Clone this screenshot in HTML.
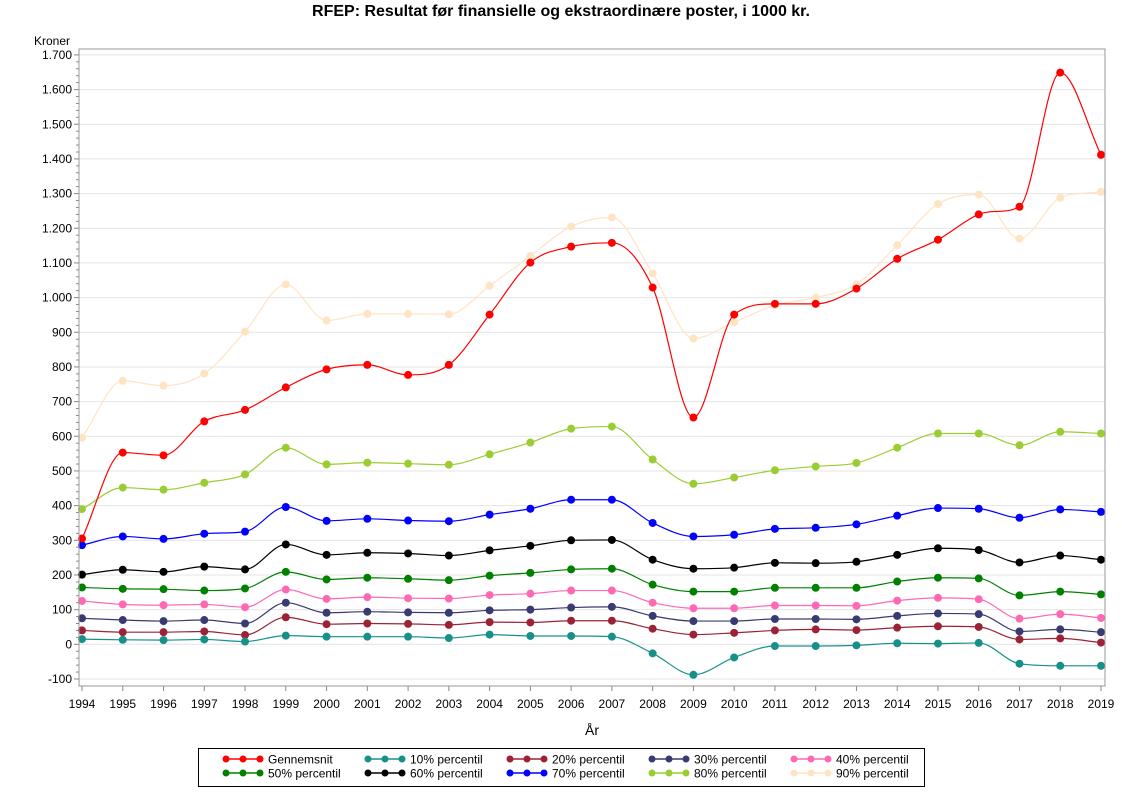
<!DOCTYPE html>
<html><head><meta charset="utf-8"><style>
body{margin:0;background:#fff;width:1122px;height:793px;overflow:hidden;font-family:"Liberation Sans",Arial,sans-serif}
svg text{font-family:"Liberation Sans",Arial,sans-serif}
</style></head><body>
<svg id="s" width="1122" height="793" xmlns="http://www.w3.org/2000/svg">
<text x="561" y="16" text-anchor="middle" font-size="16" font-weight="bold">RFEP: Resultat før finansielle og ekstraordinære poster, i 1000 kr.</text>
<text x="34" y="45" font-size="12">Kroner</text>
<text x="592" y="735" text-anchor="middle" font-size="14">År</text>
<g id="grid"></g><g id="series"></g>
<rect x="79" y="49" width="1026" height="637" fill="none" stroke="#999" stroke-width="1"/>
<rect x="198.5" y="748.5" width="726" height="38" fill="none" stroke="#000"/>
<g id="leg"></g>
</svg>
<script>
const X0=82,DX=(1101-82)/25,Y0=644.3,SY=0.3467;
const px=i=>X0+i*DX, py=v=>Y0-v*SY;
const s=document.getElementById('s'),NS='http://www.w3.org/2000/svg';
function el(t,a,p,txt){const e=document.createElementNS(NS,t);for(const k in a)e.setAttribute(k,a[k]);if(txt!==undefined)e.textContent=txt;(p||s).appendChild(e);return e;}
const g=document.getElementById('grid');
for(let v=-100;v<=1700;v+=100){const y=py(v);
 el('line',{x1:79,x2:1105,y1:y,y2:y,stroke:'#e4e4e4'},g);
 el('line',{x1:74,x2:79,y1:y,y2:y,stroke:'#888'},g);
 el('text',{x:72,y:y+4,'text-anchor':'end','font-size':12},g,(v<0?'-':'')+(Math.abs(v)>=1000?Math.floor(Math.abs(v)/1000)+'.'+String(Math.abs(v)%1000).padStart(3,'0'):Math.abs(v)));
 if(v<1700)for(let k=1;k<5;k++){const yy=y-k*20*SY;el('line',{x1:76,x2:79,y1:yy,y2:yy,stroke:'#888'},g);}
}
for(let i=0;i<26;i++){const x=px(i);el('line',{x1:x,x2:x,y1:686,y2:691,stroke:'#888'},g);
 el('text',{x:x,y:708,'text-anchor':'middle','font-size':12},g,1994+i);}
const D=[
['Gennemsnit','#ff0000',[305,553,545,643,676,741,793,806,777,806,951,1101,1147,1158,1029,654,951,982,982,1026,1112,1167,1240,1262,1649,1412]],
['10% percentil','#17908a',[15,13,12,14,8,25,22,22,22,18,28,24,24,22,-26,-88,-38,-5,-5,-3,3,2,4,-56,-62,-62]],
['20% percentil','#9b2335',[40,35,35,37,27,78,58,60,59,56,64,63,68,68,45,28,33,40,43,41,48,52,50,14,17,5]],
['30% percentil','#3a3a72',[75,70,67,70,60,120,91,94,92,91,98,100,106,108,82,67,67,73,73,72,82,89,87,37,43,35]],
['40% percentil','#ff69b4',[125,115,113,115,107,158,131,136,133,132,142,146,155,155,120,104,104,112,112,111,126,134,130,74,87,76]],
['50% percentil','#008000',[164,160,159,155,161,209,187,192,189,185,198,206,216,218,172,152,152,163,163,163,181,192,190,141,152,144]],
['60% percentil','#000000',[201,215,209,224,216,288,258,264,262,256,271,284,300,301,244,218,221,235,234,238,258,277,272,236,256,244]],
['70% percentil','#0000ff',[286,311,304,319,325,396,356,362,357,355,374,391,417,417,350,311,316,333,336,346,371,393,391,365,389,382]],
['80% percentil','#9acd32',[390,452,446,466,490,567,519,524,521,518,548,582,622,628,533,463,481,502,513,523,567,608,608,574,613,608]],
['90% percentil','#ffe4c4',[596,760,746,781,902,1038,934,953,953,952,1034,1120,1205,1231,1070,882,929,978,1000,1039,1151,1270,1297,1170,1288,1305]]];
function mono(xs,ys){const n=xs.length,d=[],m=[];
 for(let i=0;i<n-1;i++)d.push((ys[i+1]-ys[i])/(xs[i+1]-xs[i]));
 m[0]=d[0];m[n-1]=d[n-2];
 for(let i=1;i<n-1;i++){if(d[i-1]*d[i]<=0)m[i]=0;else{m[i]=3*(d[i-1]+d[i])/2/3;const a=m[i]/d[i-1],b=m[i]/d[i];const t=a*a+b*b;if(t>9){const k=3/Math.sqrt(t);m[i]=k*a*d[i-1];}}}
 let p='M'+xs[0]+','+ys[0];
 for(let i=0;i<n-1;i++){const h=xs[i+1]-xs[i];p+=' C'+(xs[i]+h/3)+','+(ys[i]+m[i]*h/3)+' '+(xs[i+1]-h/3)+','+(ys[i+1]-m[i+1]*h/3)+' '+xs[i+1]+','+ys[i+1];}
 return p;}
const sg=document.getElementById('series');
[...D].reverse().forEach(([n,c,v])=>{const xs=v.map((_,i)=>px(i)),ys=v.map(py);
 el('path',{d:mono(xs,ys),fill:'none',stroke:c,'stroke-width':1.2},sg);
 xs.forEach((x,i)=>el('circle',{cx:x,cy:ys[i],r:4,fill:c},sg));});
const lg=document.getElementById('leg');
D.forEach(([n,c],k)=>{const col=k%5,row=Math.floor(k/5);const x=226+col*142,y=759+row*14;
 el('line',{x1:x,x2:x+34,y1:y,y2:y,stroke:c,'stroke-width':1.5},lg);
 [0,17,34].forEach(o=>el('circle',{cx:x+o,cy:y,r:3.5,fill:c},lg));
 el('text',{x:x+42,y:y+4.5,'font-size':12},lg,n);});
</script>
</body></html>
